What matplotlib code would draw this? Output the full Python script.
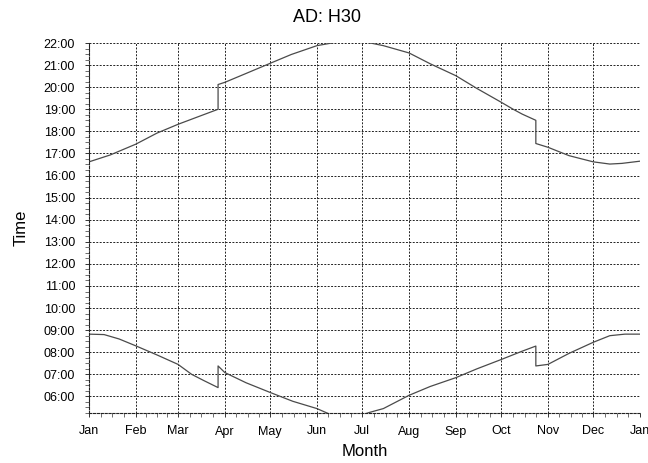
import matplotlib
matplotlib.use("Agg")
import matplotlib.pyplot as plt
from matplotlib.ticker import FixedLocator, MultipleLocator, FuncFormatter

plt.rcParams['font.family'] = ['Liberation Sans', 'DejaVu Sans']

# month starts (day of year) and names
month_days = [0, 31, 59, 90, 120, 151, 181, 212, 243, 273, 304, 334, 365]
month_names = ['Jan', 'Feb', 'Mar', 'Apr', 'May', 'Jun', 'Jul',
               'Aug', 'Sep', 'Oct', 'Nov', 'Dec', 'Jan']

# sunset: day of year, hour of day
sunset_day = [0, 14, 31, 45, 59, 73, 85.5, 85.5, 90, 104, 120, 134, 151,
              165, 175, 185, 195, 212, 226, 243, 257, 273, 281, 287, 296,
              296, 304, 318, 334, 345, 353, 365]
sunset_hr = [16.62, 16.93, 17.42, 17.92, 18.32, 18.68, 19.0, 20.12, 20.22,
             20.62, 21.08, 21.48, 21.88, 22.05, 22.08, 22.02, 21.88, 21.55,
             21.06, 20.52, 19.94, 19.32, 19.0, 18.78, 18.5, 17.45, 17.28,
             16.9, 16.62, 16.52, 16.55, 16.65]

# sunrise
sunrise_day = [0, 10, 20, 31, 45, 59, 68, 76, 85.5, 85.5, 90, 104, 120, 135,
               151, 160, 170, 180, 186, 195, 212, 226, 243, 257, 273, 287,
               296, 296, 304, 318, 334, 345, 355, 365]
sunrise_hr = [8.82, 8.80, 8.60, 8.29, 7.88, 7.45, 7.0, 6.72, 6.40, 7.38,
              7.08, 6.62, 6.18, 5.78, 5.45, 5.18, 5.10, 5.15, 5.28, 5.45,
              6.05, 6.45, 6.85, 7.25, 7.67, 8.05, 8.28, 7.38, 7.45, 7.95,
              8.45, 8.75, 8.82, 8.82]

fig = plt.figure(figsize=(6.48, 4.63), dpi=100)
ax = fig.add_axes([89 / 648, 1 - 413 / 463, 551 / 648, 370 / 463])

ax.plot(sunset_day, sunset_hr, color='#4a4a4a', lw=0.9)
ax.plot(sunrise_day, sunrise_hr, color='#4a4a4a', lw=0.9)

ax.set_xlim(0, 365)
ax.set_ylim(5.25, 22.0)

ax.xaxis.set_major_locator(FixedLocator(month_days))
ax.set_xticklabels(month_names)
minor_x = []
for a, b in zip(month_days[:-1], month_days[1:]):
    minor_x += [a + (b - a) * k / 4 for k in (1, 2, 3)]
ax.xaxis.set_minor_locator(FixedLocator(minor_x))

ax.yaxis.set_major_locator(MultipleLocator(1))
ax.yaxis.set_minor_locator(MultipleLocator(0.25))
ax.yaxis.set_major_formatter(FuncFormatter(lambda v, p: '%02d:00' % int(round(v))))

ax.grid(True, which='major', color='#222222', linestyle=(0, (2, 1.5)), lw=0.7)
for s in ['top', 'right']:
    ax.spines[s].set_visible(False)
for s in ['left', 'bottom']:
    ax.spines[s].set_linestyle((0, (2, 1.5)))
    ax.spines[s].set_linewidth(0.8)
    ax.spines[s].set_color('#222222')

ax.tick_params(which='major', labelsize=9, length=3, width=0.7, color='#333333')
ax.tick_params(which='minor', length=3, width=0.6, color='#555555')
ax.tick_params(axis='x', pad=6)
ax.tick_params(axis='y', pad=7)

ax.set_xlabel('Month', fontsize=12)
ax.set_ylabel('Time', fontsize=12)
ax.xaxis.set_label_coords(0.5, -0.085)
ax.yaxis.set_label_coords(-0.11, 0.5)

fig.text(327 / 648, 1 - 18 / 463, 'AD: H30', ha='center', va='center', fontsize=13)

fig.savefig('out.png', dpi=100)
